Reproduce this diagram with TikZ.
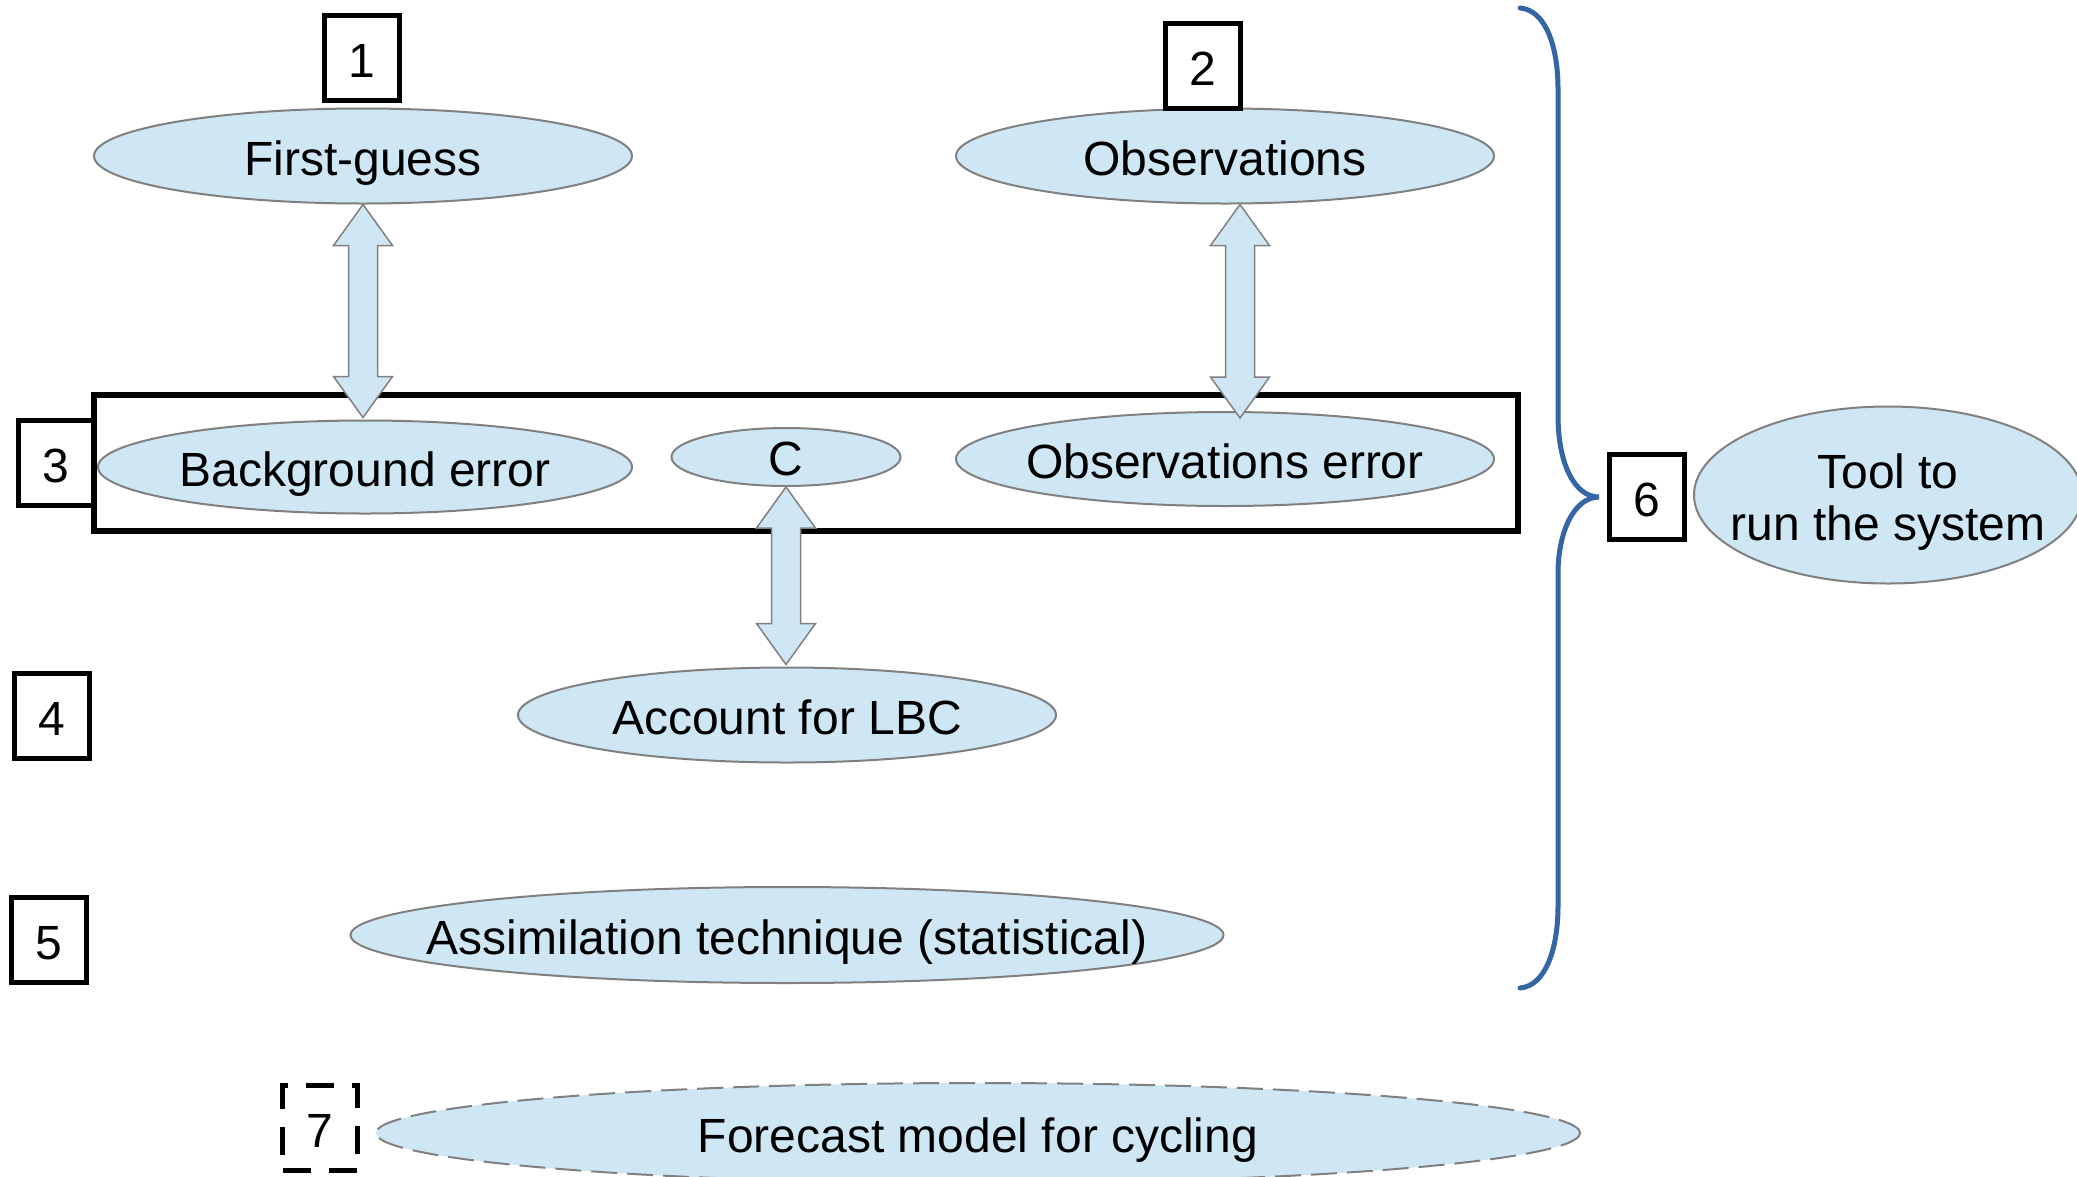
\documentclass[tikz,border=0pt]{standalone}
\usepackage{fontspec}
\setmainfont{Liberation Sans}
\usetikzlibrary{shapes.geometric,calc}
\definecolor{ellfill}{RGB}{207,231,245}
\definecolor{ellline}{RGB}{128,128,128}
\definecolor{braceblue}{RGB}{52,101,164}
\newcommand{\vdarrow}[2]{%
  \draw[dblarrow] let \p1=(#1), \p2=(#2) in
    (\x1,\y1) -- (\x1+29.5pt,\y1-41pt) -- (\x1+14.5pt,\y1-41pt) -- (\x1+14.5pt,\y2+41pt)
    -- (\x1+29.5pt,\y2+41pt) -- (\x1,\y2) -- (\x1-29.5pt,\y2+41pt) -- (\x1-14.5pt,\y2+41pt)
    -- (\x1-14.5pt,\y1-41pt) -- (\x1-29.5pt,\y1-41pt) -- cycle;}
\begin{document}
\begin{tikzpicture}[x=1pt,y=-1pt,
  every node/.style={font=\fontsize{48}{44}\selectfont, text=black},
  ell/.style={ellipse, fill=ellfill, draw=ellline, line width=2pt, inner sep=0pt, text height=46pt, text depth=8pt},
  numbox/.style={rectangle, draw=black, line width=5pt, minimum width=75pt, minimum height=85pt, inner sep=0pt, text height=46pt, text depth=8pt},
  dblarrow/.style={fill=ellfill, draw=ellline, line width=1.5pt, line join=miter},
  bigbox/.style={draw=black, line width=6pt},
  bracestyle/.style={draw=braceblue, line width=5pt, line cap=round}]
\clip (0,0) rectangle (2077,1176);
\fill[white] (0,0) rectangle (2077,1176);

% top row
\node[ell, minimum width=538pt, minimum height=95pt] (fg) at (363,156) {\makebox[0pt]{First-guess}};
\node[numbox] (b1) at (362,58) {1};
\node[ell, minimum width=538pt, minimum height=95pt] (obs) at (1225,156) {\makebox[0pt]{Observations}};
\node[numbox] (b2) at (1203,66) {2};

% group box 3
\draw[bigbox] (94,395) rectangle (1518,531);
\node[numbox] (b3) at (56,463) {3};
\node[ell, minimum width=534pt, minimum height=93pt] (bg) at (365,467) {\makebox[0pt]{Background error}};
\node[ell, minimum width=229pt, minimum height=58pt, text height=37pt, text depth=0pt] (c) at (786,457) {\makebox[0pt]{C}};
\node[ell, minimum width=538pt, minimum height=94pt] (oe) at (1225,459) {\makebox[0pt]{Observations error}};

% row 4, 5
\node[numbox] (b4) at (52,716) {4};
\node[ell, minimum width=538pt, minimum height=95pt] (lbc) at (787,715) {\makebox[0pt]{Account for LBC}};
\node[numbox] (b5) at (49,940) {5};
\node[ell, minimum width=873pt, minimum height=96pt] (assim) at (787,935) {\makebox[0pt]{Assimilation technique (statistical)}};

% row 7
\node[numbox, dash pattern=on 28pt off 18pt] (b7) at (320,1128) {7};
\node[ell, dash pattern=on 26pt off 10pt, minimum width=1204pt, minimum height=100pt] (fc) at (978,1133) {\makebox[0pt]{Forecast model for cycling}};

% arrows
\vdarrow{fg.south}{$(bg.north)+(0,-2)$}
\vdarrow{$(obs.south)+(15,0)$}{$(oe.north)+(15,7)$}
\vdarrow{c.south}{$(lbc.north)+(0,-2)$}

% brace
\draw[bracestyle] (1520,8) .. controls (1545,10) and (1558,45) .. (1558,89) -- (1558,415)
  .. controls (1558,465) and (1575,497) .. (1599,497)
  .. controls (1575,497) and (1558,530) .. (1558,574) -- (1558,906)
  .. controls (1558,950) and (1545,986) .. (1520,988);

\node[numbox] (b6) at (1647,497) {6};
\node[ellipse, fill=ellfill, draw=ellline, line width=2pt, inner sep=0pt,
      minimum width=388pt, minimum height=177pt] (tool) at (1888,495)
  {\makebox[0pt]{\smash{\raisebox{7pt}{\fontsize{48}{52}\selectfont
    \begin{tabular}[t]{@{}c@{}}Tool to\\run the system\end{tabular}}}}};
\end{tikzpicture}
\end{document}
